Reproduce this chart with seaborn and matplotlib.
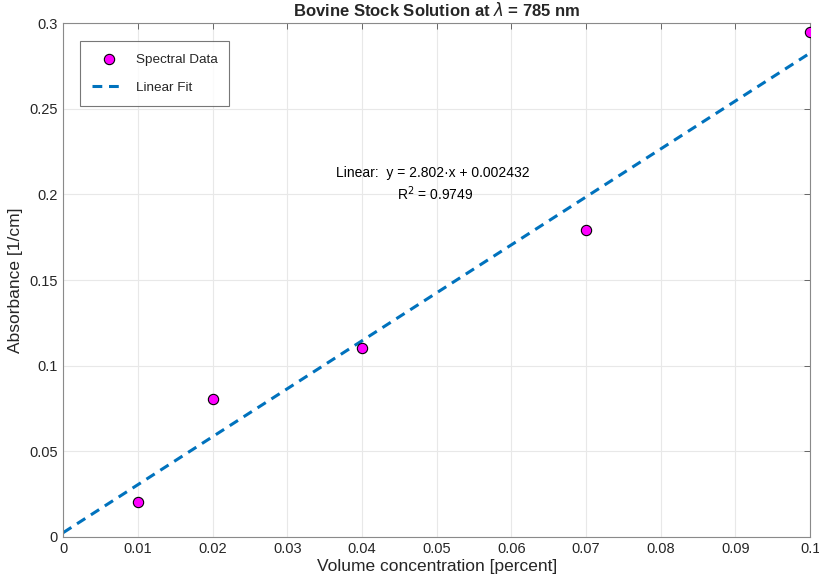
import numpy as np
import pandas as pd
import seaborn as sns
import matplotlib.pyplot as plt

# measured points
concentration = [0.01, 0.02, 0.04, 0.07, 0.10]
absorbance = [0.0205, 0.0805, 0.1103, 0.1790, 0.2948]

# linear fit coefficients (as printed on the chart)
slope = 2.802
intercept = 0.002432
r_squared = 0.9749

x_ticks = [0, 0.01, 0.02, 0.03, 0.04, 0.05, 0.06, 0.07, 0.08, 0.09, 0.1]
y_ticks = [0, 0.05, 0.1, 0.15, 0.2, 0.25, 0.3]

sns.set_style("whitegrid")
plt.rcParams['font.family'] = ['Liberation Sans', 'DejaVu Sans']

data = pd.DataFrame({"x": concentration, "y": absorbance})
fit_x = np.linspace(0, 0.1, 50)
fit = pd.DataFrame({"x": fit_x, "y": slope * fit_x + intercept})

fig, ax = plt.subplots(figsize=(8.2, 5.81), dpi=100)
fig.subplots_adjust(left=0.077, right=0.988, top=0.96, bottom=0.076)

sns.scatterplot(data=data, x="x", y="y", ax=ax, color="#ff00ff", edgecolor="black",
                linewidth=0.8, s=55, zorder=3, label="Spectral Data")
sns.lineplot(data=fit, x="x", y="y", ax=ax, color="#0072BD", linewidth=2.2,
             linestyle=(0, (3.2, 2.2)), zorder=2, label="Linear Fit")

ax.set_xlim(0, 0.1)
ax.set_ylim(0, 0.3)
ax.set_xticks(x_ticks)
ax.set_xticklabels([f"{t:g}" for t in x_ticks])
ax.set_yticks(y_ticks)
ax.set_yticklabels([f"{t:g}" for t in y_ticks])
ax.grid(True, color="#e8e8e8", linewidth=0.8)
for s in ax.spines.values():
    s.set_color("#8a8a8a")
    s.set_linewidth(0.8)
ax.tick_params(direction="in", length=4, width=0.7, color="#666666",
               labelsize=10.5, labelcolor="#262626", top=True, right=True, pad=4)

ax.set_title(r"Bovine Stock Solution at $\lambda$ = 785 nm", fontsize=12, fontweight="bold", pad=5)
ax.set_xlabel("Volume concentration [percent]", fontsize=12.5, color="#262626", labelpad=2)
ax.set_ylabel("Absorbance [1/cm]", fontsize=12.5, color="#262626", labelpad=4)

ax.text(0.0495, 0.2125, f"Linear:  y = {slope}\u00b7x + {intercept}", ha="center", va="center",
        fontsize=10, color="black")
ax.text(0.0498, 0.2002, f"R$^2$ = {r_squared}", ha="center", va="center", fontsize=10, color="black")

leg = ax.legend(loc="upper left", bbox_to_anchor=(0.023, 0.965), fontsize=9.7, frameon=True,
                fancybox=False, borderpad=0.9, labelspacing=1.15, handlelength=2.4, borderaxespad=0)
leg.get_frame().set_edgecolor("#555555")
leg.get_frame().set_linewidth(0.8)

plt.savefig("out.png", dpi=100)
